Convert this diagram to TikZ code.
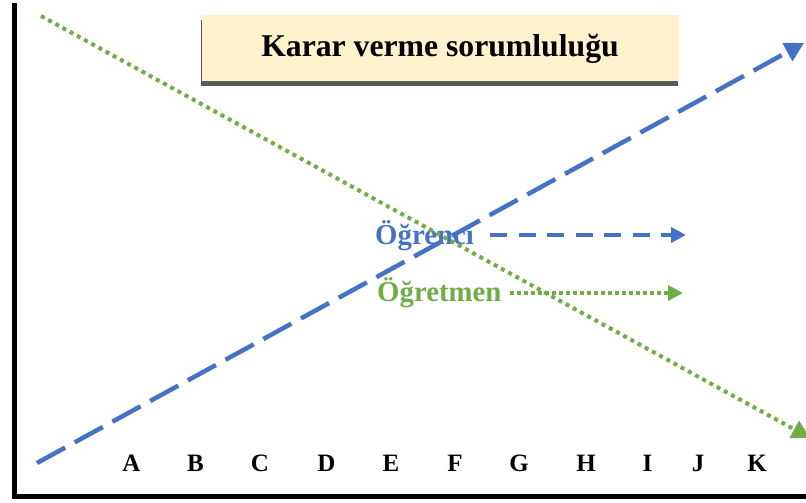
\documentclass[tikz,border=0pt]{standalone}
\usepackage{fontspec}
\setmainfont{Liberation Serif}
\usetikzlibrary{arrows.meta}
\definecolor{cblue}{HTML}{4472C4}
\definecolor{cgreen}{HTML}{70AD47}
\definecolor{cfill}{HTML}{FFF2CC}
\definecolor{cshadow}{HTML}{5A5A5A}
\tikzset{
  axis/.style={line width=5pt, line cap=rect},
  blueline/.style={cblue, line width=4.5pt, dash pattern=on 32pt off 11pt, -{Triangle[length=19pt,width=20pt]}},
  greenline/.style={cgreen, line width=4pt, dash pattern=on 4pt off 4.2pt, -{Triangle[length=18pt,width=19pt]}},
  bluearrow/.style={cblue, line width=4pt, dash pattern=on 17pt off 11.5pt, -{Triangle[length=15pt,width=15pt]}},
  greenarrow/.style={cgreen, line width=3.6pt, dash pattern=on 3.6pt off 3.4pt, -{Triangle[length=15pt,width=15pt]}},
  letter/.style={anchor=base, inner sep=0pt, font=\fontsize{25}{28}\selectfont\bfseries},
  lbl/.style={anchor=base west, inner sep=0pt, font=\fontsize{28.8}{32}\selectfont\bfseries},
}
\begin{document}
\begin{tikzpicture}[x=1pt,y=1pt]
\useasboundingbox (0,0) rectangle (806,503);
% axes
\coordinate (top) at (14,497);
\coordinate (corner) at (14,6);
\coordinate (right) at (806,6);
\draw[axis] (top) -- (corner) -- (right);
% title box
\fill[cshadow] (200.5,483) rectangle (678,417);
\node[fill=cfill, minimum width=477pt, minimum height=66pt, anchor=north west, inner sep=0pt] (title) at (202,488) {};
\node[anchor=base, inner sep=0pt, font=\fontsize{31.7}{36}\selectfont\bfseries] (tt) at (440,446) {Karar verme sorumluluğu};
% letters
\foreach \l/\x in {A/131.5,B/195.5,C/260,D/326.5,E/391,F/455,G/519,H/586,I/647.5,J/698,K/757}
  \node[letter] (l\l) at (\x,31) {\l};
% main lines
\coordinate (bs) at (37,40);
\coordinate (be) at (804,460);
\draw[blueline] (bs) -- (be);
% labels
\node[lbl, text=cblue] (ogr) at (375,258) {Öğrenci};
\node[lbl, text=cgreen] (ogt) at (377,201) {Öğretmen};
\coordinate (ba) at (686,268);
\coordinate (ga) at (683,210);
\coordinate (bas) at (490,268);
\coordinate (gas) at (510,210);
\draw[bluearrow] (bas) -- (ba);
\draw[greenarrow] (gas) -- (ga);
\coordinate (gs) at (41,487);
\coordinate (ge) at (810,65);
\draw[greenline] (gs) -- (ge);
\end{tikzpicture}
\end{document}
